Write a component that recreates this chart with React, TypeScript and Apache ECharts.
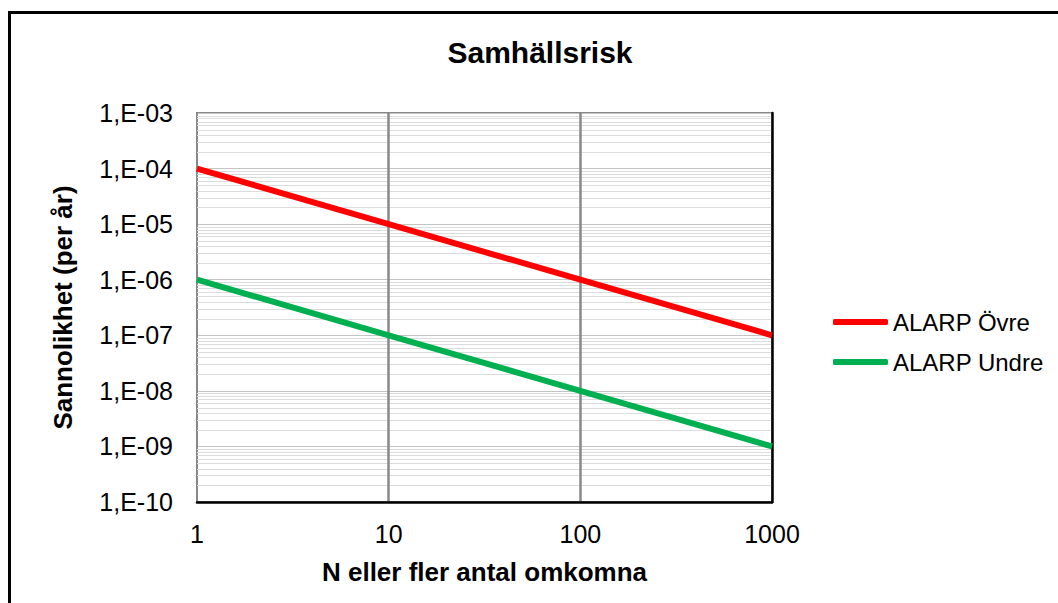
import React, { useEffect, useRef } from "react";
import * as echarts from "echarts";

const titleText = "Samhällsrisk";
const xAxisName = "N eller fler antal omkomna";
const yAxisName = "Sannolikhet (per år)";
const nValues = [1, 10, 100, 1000];
const upperName = "ALARP Övre";
const lowerName = "ALARP Undre";
const upperValues = [1e-4, 1e-5, 1e-6, 1e-7];
const lowerValues = [1e-6, 1e-7, 1e-8, 1e-9];
const yTickLabels = ["1,E-10", "1,E-09", "1,E-08", "1,E-07", "1,E-06", "1,E-05", "1,E-04", "1,E-03"];
const xTickLabels = ["1", "10", "100", "1000"];
const yExponents = [-10, -9, -8, -7, -6, -5, -4];
const minorMultipliers = [2, 3, 4, 5, 6, 7, 8, 9];

const minorGridValues: number[] = [];
yExponents.forEach((e) => minorMultipliers.forEach((m) => minorGridValues.push(m * Math.pow(10, e))));

const FONT = "'Liberation Sans', Arial, sans-serif";

export default function App() {
  const ref = useRef<HTMLDivElement>(null);
  useEffect(() => {
    if (!ref.current) return;
    const chart = echarts.init(ref.current, undefined, { renderer: "svg" });
    chart.setOption({
      animation: false,
      backgroundColor: "#fff",
      textStyle: { fontFamily: FONT },
      title: {
        text: titleText,
        left: 540,
        top: 37,
        padding: 0,
        textAlign: "center",
        textStyle: { fontFamily: FONT, fontSize: 30, fontWeight: "bold", color: "#000" },
      },
      graphic: [
        {
          type: "rect",
          shape: { x: 9.5, y: 12.5, width: 1200, height: 800 },
          style: { fill: "none", stroke: "#000", lineWidth: 3 },
          silent: true,
          z: 100,
        },
      ],
      legend: {
        orient: "vertical",
        left: 833,
        top: 310,
        padding: 0,
        itemWidth: 55,
        itemHeight: 6,
        itemGap: 16,
        icon: "roundRect",
        data: [upperName, lowerName],
        textStyle: { fontFamily: FONT, fontSize: 24, color: "#000" },
      },
      grid: {
        left: 197,
        top: 113,
        right: 286,
        bottom: 101,
        show: true,
        borderColor: "#888",
        borderWidth: 2,
        backgroundColor: "#fff",
      },
      xAxis: {
        type: "log",
        logBase: 10,
        min: 1,
        max: 1000,
        z: 3,
        name: xAxisName,
        nameLocation: "middle",
        nameGap: 57,
        nameTextStyle: { fontFamily: FONT, fontSize: 26, fontWeight: "bold", color: "#000" },
        axisLine: { show: true, lineStyle: { color: "#000", width: 2.5 } },
        axisTick: { show: false },
        axisLabel: {
          margin: 19,
          fontFamily: FONT,
          fontSize: 25,
          color: "#000",
          formatter: (v: number) => xTickLabels[Math.round(Math.log10(v))],
        },
        splitLine: { show: true, showMinLine: false, showMaxLine: false, lineStyle: { color: "#888", width: 2.5 } },
      },
      yAxis: [
        {
          type: "log",
          logBase: 10,
          min: 1e-10,
          max: 1e-3,
          name: yAxisName,
          nameLocation: "middle",
          nameGap: 121,
          nameTextStyle: { fontFamily: FONT, fontSize: 26, fontWeight: "bold", color: "#000" },
          axisLine: { show: true, lineStyle: { color: "#888", width: 2 } },
          axisTick: { show: false },
          axisLabel: {
            margin: 24,
            fontFamily: FONT,
            fontSize: 25,
            color: "#000",
            formatter: (v: number) => yTickLabels[Math.round(Math.log10(v)) + 10],
          },
          splitLine: { show: true, showMinLine: false, showMaxLine: false, lineStyle: { color: "#c4c4c4", width: 1 } },
        },
        {
          type: "log",
          logBase: 10,
          min: 1e-10,
          max: 1e-3,
          position: "right",
          z: 4,
          axisLine: { show: true, lineStyle: { color: "#000", width: 2.5 } },
          axisTick: { show: false },
          axisLabel: { show: false },
          splitLine: { show: false },
        },
      ],
      series: [
        {
          name: "minorGrid",
          type: "custom",
          z: 1,
          silent: true,
          clip: true,
          tooltip: { show: false },
          data: minorGridValues.map((v) => [nValues[0], v]),
          renderItem: (params: any, api: any) => {
            const cs = params.coordSys;
            const pt = api.coord([api.value(0), api.value(1)]);
            const y = Math.round(pt[1]) + 0.5;
            return {
              type: "line",
              shape: { x1: cs.x, y1: y, x2: cs.x + cs.width, y2: y },
              style: { stroke: "#dcdcdc", lineWidth: 1 },
              silent: true,
            };
          },
        },
        {
          name: upperName,
          type: "line",
          z: 5,
          symbol: "none",
          color: "#FF0000",
          lineStyle: { color: "#FF0000", width: 6 },
          data: nValues.map((n, i) => [n, upperValues[i]]),
        },
        {
          name: lowerName,
          type: "line",
          z: 5,
          symbol: "none",
          color: "#00B050",
          lineStyle: { color: "#00B050", width: 6 },
          data: nValues.map((n, i) => [n, lowerValues[i]]),
        },
      ],
    });
    return () => chart.dispose();
  }, []);
  return (
    <div
      ref={ref}
      style={{ position: "fixed", left: 0, top: 0, width: 1058, height: 603 }}
    />
  );
}
